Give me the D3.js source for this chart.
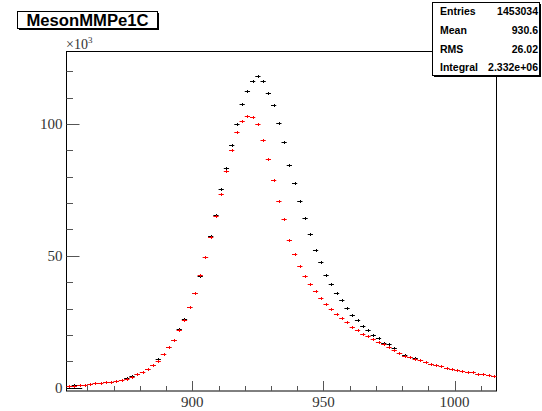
<!DOCTYPE html>
<html><head><meta charset="utf-8">
<script src="https://cdn.jsdelivr.net/npm/d3@7"></script>
<style>body{margin:0;background:#fff}svg{display:block}</style>
</head><body>
<script>
// ---- data (values in units of 10^3) ----
const binCenters = d3.range(853, 1016, 2);
const blackCounts = [0.8,0.9,1.0,1.2,1.4,1.7,1.9,2.1,2.3,2.6,3.0,3.5,4.3,5.1,6.1,7.2,8.7,10.8,12.6,15.4,
  18.2,22.1,25.9,30.5,36.1,42.3,49.5,57.6,65.4,75.2,83.2,92.2,100.0,107.6,112.6,116.4,118.2,116.4,111.6,107.2,
  100.4,93.2,84.6,77.8,70.7,64.5,58.3,52.4,47.5,42.7,39.2,35.8,33.1,30.2,27.7,25.6,23.5,21.7,20.1,18.7,
  17.0,16.4,15.2,13.3,12.5,11.6,11.3,10.4,9.6,9.1,8.6,8.1,7.5,7.0,6.7,6.3,5.9,5.8,5.2,5.1,4.8,4.5];
const redCounts = [0.8,0.8,0.9,1.1,1.4,1.8,1.9,2.0,2.2,2.5,2.9,3.3,4.2,5.2,5.9,7.2,8.6,10.0,12.6,15.3,
  18.0,21.9,25.8,30.5,36.0,42.7,49.5,57.0,65.3,73.6,82.2,90.0,96.9,101.3,103.0,102.7,100.0,93.8,86.9,78.9,
  70.8,63.8,56.2,50.8,46.2,42.2,39.2,36.7,34.1,31.8,29.9,28.0,26.6,25.0,23.2,22.0,20.3,19.5,18.3,17.3,
  16.4,15.4,14.3,13.2,12.0,11.6,11.0,10.4,9.7,9.0,8.5,8.1,7.5,7.0,6.6,6.3,6.0,5.8,5.1,5.1,4.9,4.5];
const emptyBins = [853, 855, 857];
const binWidth = 2;
const xMajorTicks = [900, 950, 1000];
const yMajorTicks = [0, 50, 100];
const title = "MesonMMPe1C";
const statsLabels = ["Entries", "Mean", "RMS", "Integral"];
const statsValues = ["1453034", "930.6", "26.02", "2.332e+06"];

// ---- layout ----
const W = 542, H = 411;
const fx0 = 66.5, fx1 = 496.5, fy0 = 51.5, fy1 = 391;
const svg = d3.select("body").append("svg").attr("width", W).attr("height", H);

const x = d3.scaleLinear().domain([852, 1016]).range([fx0, fx1]);
const y = d3.scaleLinear().domain([-1.25, 127.5]).range([fy1, fy0]);

// frame
svg.append("rect").attr("x", fx0).attr("y", fy0).attr("width", fx1 - fx0).attr("height", fy1 - fy0)
  .attr("fill", "none").attr("stroke", "#000").attr("stroke-width", 1);

// x axis ticks
const xMinor = d3.range(860, 1016, 10);
svg.append("g").selectAll("line").data(xMinor).join("line")
  .attr("x1", d => Math.round(x(d)) + 0.5).attr("x2", d => Math.round(x(d)) + 0.5)
  .attr("y1", fy1).attr("y2", d => fy1 - (xMajorTicks.includes(d) ? 10 : 5))
  .attr("stroke", "#555").attr("stroke-width", 1);
svg.append("g").selectAll("text").data(xMajorTicks).join("text")
  .attr("x", d => x(d)).attr("y", 407).attr("text-anchor", "middle")
  .attr("font-family", "Liberation Serif").attr("font-size", 15).attr("fill", "#333").text(d => d);

// y axis ticks
const yMinor = d3.range(0, 127, 10);
svg.append("g").selectAll("line").data(yMinor).join("line")
  .attr("y1", d => Math.round(y(d)) + 0.5).attr("y2", d => Math.round(y(d)) + 0.5)
  .attr("x1", fx0).attr("x2", d => fx0 + (yMajorTicks.includes(d) ? 13 : 6.5))
  .attr("stroke", "#555").attr("stroke-width", 1);
svg.append("g").selectAll("text").data(yMajorTicks).join("text")
  .attr("x", 62.5).attr("y", d => y(d) + 5).attr("text-anchor", "end")
  .attr("font-family", "Liberation Serif").attr("font-size", 15).attr("fill", "#333").text(d => d);

// exponent label
const ex = svg.append("text").attr("x", 66).attr("y", 48.5)
  .attr("font-family", "Liberation Serif").attr("font-size", 14).attr("fill", "#333");
ex.append("tspan").text("\u00d710");
ex.append("tspan").attr("dy", -6).attr("font-size", 9).text("3");

// empty bins (zero content)
svg.append("g").selectAll("line").data(emptyBins).join("line")
  .attr("x1", d => x(d - binWidth / 2)).attr("x2", d => x(d + binWidth / 2))
  .attr("y1", Math.round(y(0)) + 0.5).attr("y2", Math.round(y(0)) + 0.5)
  .attr("stroke", "#000").attr("stroke-width", 1);

// series drawing
function drawSeries(vals, color) {
  const g = svg.append("g").attr("stroke", color).attr("stroke-width", 1);
  const pts = binCenters.map((c, i) => ({c, v: vals[i]}));
  g.selectAll("line.h").data(pts).join("line").attr("class", "h")
    .attr("x1", d => x(d.c - binWidth / 2)).attr("x2", d => x(d.c + binWidth / 2))
    .attr("y1", d => Math.round(y(d.v)) + 0.5).attr("y2", d => Math.round(y(d.v)) + 0.5);
  g.selectAll("line.v").data(pts).join("line").attr("class", "v")
    .attr("x1", d => Math.round(x(d.c)) + 0.5).attr("x2", d => Math.round(x(d.c)) + 0.5)
    .attr("y1", d => Math.round(y(d.v)) - 1).attr("y2", d => Math.round(y(d.v)) + 2);
}
drawSeries(blackCounts, "#000");
drawSeries(redCounts, "#f00");

// title box
const tb = {x: 17, y: 11, w: 140, h: 17};
svg.append("rect").attr("x", tb.x + 2).attr("y", tb.y + 2).attr("width", tb.w).attr("height", tb.h).attr("fill", "#000");
svg.append("rect").attr("x", tb.x + 0.5).attr("y", tb.y + 0.5).attr("width", tb.w).attr("height", tb.h)
  .attr("fill", "#fff").attr("stroke", "#000");
svg.append("text").attr("x", tb.x + tb.w / 2 + 0.5).attr("y", tb.y + 15).attr("text-anchor", "middle")
  .attr("font-family", "Liberation Sans").attr("font-weight", "bold").attr("font-size", 16)
  .attr("textLength", 122).attr("lengthAdjust", "spacingAndGlyphs").text(title);

// stats box
const sb = {x: 432.5, y: 2.5, w: 107, h: 73};
svg.append("rect").attr("x", sb.x + 1.5).attr("y", sb.y + 1.5).attr("width", sb.w).attr("height", sb.h).attr("fill", "#000");
svg.append("rect").attr("x", sb.x).attr("y", sb.y).attr("width", sb.w).attr("height", sb.h)
  .attr("fill", "#fff").attr("stroke", "#000");
const rows = svg.append("g").attr("font-family", "Liberation Sans").attr("font-weight", "bold").attr("font-size", 10.5);
rows.selectAll("text.l").data(statsLabels).join("text").attr("class", "l")
  .attr("x", 440).attr("y", (d, i) => 15 + i * 18.8).text(d => d);
rows.selectAll("text.r").data(statsValues).join("text").attr("class", "r")
  .attr("x", 538).attr("y", (d, i) => 15 + i * 18.8).attr("text-anchor", "end").text(d => d);
</script>
</body></html>
